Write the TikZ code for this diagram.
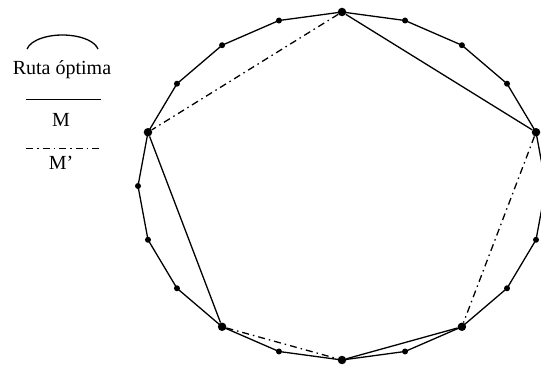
\documentclass[tikz,border=0pt]{standalone}
\usepackage{fontspec}
\setmainfont{Liberation Serif}
\usetikzlibrary{positioning}

\begin{document}
\begin{tikzpicture}[
    x=1pt, y=1pt,
    dot/.style={
        circle,
        fill=black,
        inner sep=0pt,
        minimum size=6pt
    },
    bigdot/.style={
        circle,
        fill=black,
        inner sep=0pt,
        minimum size=8.5pt
    },
    tour/.style={
        draw,
        line width=1.3pt
    },
    matchM/.style={
        draw,
        line width=1.3pt
    },
    matchMp/.style={
        draw,
        line width=1.3pt,
        dash pattern=on 7pt off 4pt on 1.5pt off 4pt
    },
    legendtext/.style={
        font=\fontsize{20}{24}\selectfont,
        anchor=base,
        inner sep=0pt
    }
]
    \useasboundingbox (0,0) rectangle (541,367);
    \clip (0,0) rectangle (541,367);

    % --- Cities on the tour ---
    \foreach \k/\s in {0/dot,1/bigdot,2/dot,3/dot,4/dot,5/bigdot,6/dot,7/dot,
                       8/dot,9/bigdot,10/dot,11/dot,12/dot,13/bigdot,14/dot,
                       15/bigdot,16/dot,17/bigdot,18/dot,19/dot}
        \node [\s] (p\k) at ({342+204*cos(18*\k)}, {181+174*sin(18*\k)}) {};

    % --- Optimal tour ---
    \draw [tour] (p0.center) \foreach \k in {1,...,19} { -- (p\k.center) } -- cycle;

    % --- Matching M ---
    \path [matchM] (p5) -- (p1);
    \path [matchM] (p9) -- (p13);
    \path [matchM] (p15) -- (p17);

    % --- Matching M' ---
    \path [matchMp] (p5) -- (p9);
    \path [matchMp] (p1) -- (p17);
    \path [matchMp] (p13) -- (p15);

    % --- Legend ---
    \node [legendtext] (ruta) at (62,292) {Ruta óptima};
    \draw [tour] (62.5,315) ++(170:36 and 17)
        arc [start angle=170, end angle=10, x radius=36, y radius=17];

    \coordinate (mleft) at (26,267.5);
    \coordinate (mright) at (100.7,267.5);
    \path [matchM] (mleft) -- (mright);
    \node [legendtext] (mlabel) at (61,240.3) {M};

    \coordinate (mpleft) at (26,218.5);
    \coordinate (mpright) at (100.7,218.5);
    \path [matchMp] (mpleft) -- (mpright);
    \node [legendtext] (mplabel) at (61,197) {M'};

\end{tikzpicture}
\end{document}
